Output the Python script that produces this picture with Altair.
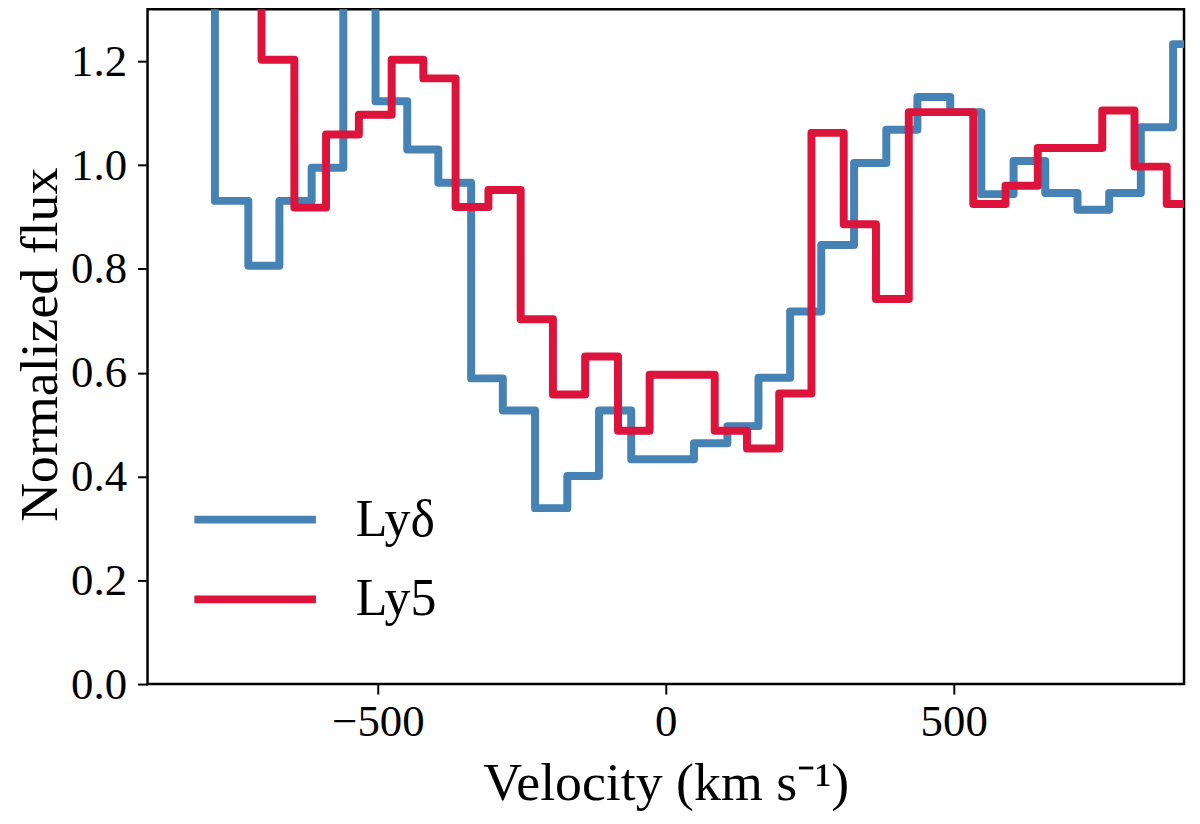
import altair as alt
import pandas as pd

# Ly-delta: left bin edges (km/s) and normalized flux.
# The first bin and the one near -560 run above the top of the plot.
ly_delta_edges = [-838, -783, -725, -671, -615, -560, -504, -449, -395, -338,
                  -283, -227, -171, -116, -60, -5, 49, 107, 161, 216,
                  270, 327, 383, 437, 494, 548, 604, 659, 715, 770,
                  825, 881, 936]
ly_delta_flux = [1.5, 0.931, 0.806, 0.931, 0.995, 1.4, 1.123, 1.030, 0.966, 0.589,
                 0.527, 0.339, 0.401, 0.527, 0.433, 0.433, 0.464, 0.497, 0.590, 0.718,
                 0.846, 1.004, 1.068, 1.131, 1.102, 0.944, 1.008, 0.946, 0.914, 0.946,
                 1.073, 1.233]

# Ly5 (Ly-epsilon)
ly5_edges = [-758, -702, -645, -590, -533, -476, -421, -365, -308, -252,
             -196, -140, -83, -28, 28, 85, 141, 197, 253, 309,
             365, 422, 478, 534, 590, 646, 702, 758, 814, 870, 926]
ly5_flux = [1.45, 1.203, 0.918, 1.059, 1.097, 1.203, 1.167, 0.919, 0.952, 0.703,
            0.558, 0.631, 0.488, 0.596, 0.596, 0.488, 0.454, 0.560, 1.062, 0.886,
            0.742, 1.102, 1.102, 0.925, 0.960, 1.033, 1.033, 1.105, 0.997, 0.925]

series_names = ["Lyδ", "Ly5"]
series_colors = ["#4682B4", "#DC143C"]

x_ticks = [-500, 0, 500]
y_ticks = [0.0, 0.2, 0.4, 0.6, 0.8, 1.0, 1.2]

FONT = "Liberation Serif"


def step_frame(edges, flux, name):
    # step-after needs a closing point at the last edge
    return pd.DataFrame({
        "velocity": edges,
        "flux": list(flux) + [flux[-1]],
        "line": name,
    })


x_enc = alt.X(
    "velocity:Q",
    title="Velocity (km s⁻¹)",
    scale=alt.Scale(domain=[-900, 900], nice=False, zero=False),
    axis=alt.Axis(values=x_ticks, format="d", labelPadding=42,
                  labelBaseline="alphabetic", labelFlush=False,
                  titleY=116, titleBaseline="alphabetic"),
)
y_enc = alt.Y(
    "flux:Q",
    title="Normalized flux",
    scale=alt.Scale(domain=[0, 1.3], nice=False),
    axis=alt.Axis(values=y_ticks, format=".1f", labelPadding=11,
                  labelFlush=False, titleX=-91, titleY=336,
                  titleBaseline="alphabetic", titleAngle=270),
)
color_enc = alt.Color(
    "line:N",
    scale=alt.Scale(domain=series_names, range=series_colors),
    legend=alt.Legend(
        title=None, orient="none", legendX=43, legendY=472,
        symbolType="stroke", symbolSize=14884, symbolStrokeWidth=8,
        clipHeight=80, rowPadding=0, padding=0, labelOffset=36,
        labelFont=FONT, labelFontSize=52, labelColor="black",
    ),
)


def step_line(df):
    return alt.Chart(df).mark_line(
        interpolate="step-after", strokeWidth=8, strokeJoin="round", clip=True
    ).encode(x=x_enc, y=y_enc, color=color_enc)


chart = alt.layer(
    step_line(step_frame(ly_delta_edges, ly_delta_flux, "Lyδ")),
    step_line(step_frame(ly5_edges, ly5_flux, "Ly5")),
).properties(
    width=1040,
    height=677,
    autosize=alt.AutoSizeParams(type="none"),
    padding={"left": 140, "top": 0, "right": 8, "bottom": 130},
).configure_axis(
    labelFont=FONT, labelFontSize=45, labelColor="black",
    titleFont=FONT, titleFontSize=54, titleFontWeight="normal", titleColor="black",
    tickSize=10, tickWidth=2, tickColor="black",
    grid=False, domain=False,
).configure_view(
    stroke="black", strokeWidth=2.5,
)

chart.save("out.html", embed_options={"renderer": "svg", "actions": False})
